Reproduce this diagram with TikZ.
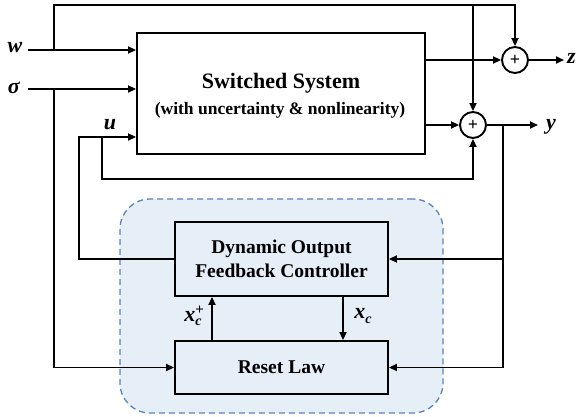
\documentclass[tikz,border=0pt]{standalone}
\usepackage{fontspec}
\setmainfont{Liberation Serif}
\usetikzlibrary{arrows.meta}
\definecolor{panelfill}{HTML}{E6EEF8}
\definecolor{paneldash}{HTML}{5A84B0}
\newcommand{\mv}[1]{\textbf{\textit{#1}}}
\newcommand{\subc}{\raisebox{-4.5pt}{\fontsize{14}{14}\selectfont\mv{c}}}
\tikzset{
  wire/.style={line width=1.9pt, line join=miter},
  arr/.style={wire, -{Triangle[length=8pt,width=7pt]}},
  blockbox/.style={draw, line width=1.9pt, rectangle, inner sep=0pt},
  sumnode/.style={draw, circle, line width=1.9pt, minimum size=26pt, inner sep=0pt, font=\fontsize{18}{18}\selectfont\bfseries},
  mlab/.style={inner sep=0pt, font=\fontsize{22}{22}\selectfont},
}
\begin{document}
\begin{tikzpicture}[x=1pt,y=-1pt]
\useasboundingbox (0,0) rectangle (579,417);
% panel
\node[draw=paneldash, fill=panelfill, dash pattern=on 6pt off 4pt, line width=1.3pt, rounded corners=30pt,
      minimum width=323pt, minimum height=214pt, inner sep=0pt] (panel) at (281.5,306) {};
% blocks
\node[blockbox, fill=white, minimum width=288pt, minimum height=121pt] (sys) at (281,93.5) {};
\node[inner sep=0pt, font=\fontsize{22}{24}\selectfont\bfseries] (t1) at (281,83) {Switched System};
\node[inner sep=0pt, font=\fontsize{17.5}{20}\selectfont\bfseries] (t2) at (280,110) {(with uncertainty \& nonlinearity)};
\node[blockbox, minimum width=213pt, minimum height=74pt, align=center,
      font=\fontsize{19.5}{24}\selectfont\bfseries] (ctrl) at (281.5,259) {Dynamic Output\\Feedback Controller};
\node[blockbox, minimum width=213pt, minimum height=53pt,
      font=\fontsize{19.5}{24}\selectfont\bfseries] (reset) at (281.5,367.5) {Reset Law};
% sums
\node[sumnode] (zsum) at (515,60) {+};
\node[sumnode] (ysum) at (473,125) {+};
% labels
\node[mlab] (wlab) at (15,48) {\mv{w}};
\node[mlab] (slab) at (14,88) {\mv{σ}};
\node[mlab] (ulab) at (110,125) {\mv{u}};
\node[mlab, anchor=west] (zlab) at (567,58) {\mv{z}};
\node[mlab, anchor=west] (ylab) at (546,127) {\mv{y}};
\node[mlab] (xcplab) at (193,316) {\mv{x}\rlap{\raisebox{7pt}{\fontsize{15}{15}\selectfont\textbf{+}}}\subc};
\node[mlab] (xclab) at (363,316) {\mv{x}\subc};
% junctions
\coordinate (jw) at (54,50);
\coordinate (js) at (54,89);
\coordinate (topz) at (515,5);
\coordinate (topy) at (473,5);
\coordinate (uin) at (79,137);
\coordinate (ju) at (102,137);
\coordinate (ub) at (102,179);
\coordinate (jy) at (503,125);
% inputs
\draw[arr] (28,50) -- (sys.west |- jw);
\draw[arr] (28,89) -- (sys.west |- js);
\draw[arr] (jw) |- (topz) -- (zsum.north);
\draw[arr] (topy) -- (ysum.north);
\draw[arr] (js) |- (reset.west);
\draw[arr] (ctrl.west) -| (uin) -- (sys.west |- uin);
\draw[arr] (ju) -- (ub) -| (ysum.south);
% outputs
\draw[arr] (sys.east |- zsum) -- (zsum.west);
\draw[arr] (sys.east |- ysum) -- (ysum.west);
\draw[arr] (zsum.east) -- ([xshift=-3pt]zlab.west |- zsum);
\draw[arr] (ysum.east) -- (538,125);
\draw[arr] (jy) |- (ctrl.east);
\draw[arr] (jy) |- (reset.east);
% internal
\draw[arr] ([xshift=-69.5pt]reset.north) -- ([xshift=-69.5pt]ctrl.south);
\draw[arr] ([xshift=61.5pt]ctrl.south) -- ([xshift=61.5pt]reset.north);
\end{tikzpicture}
\end{document}
